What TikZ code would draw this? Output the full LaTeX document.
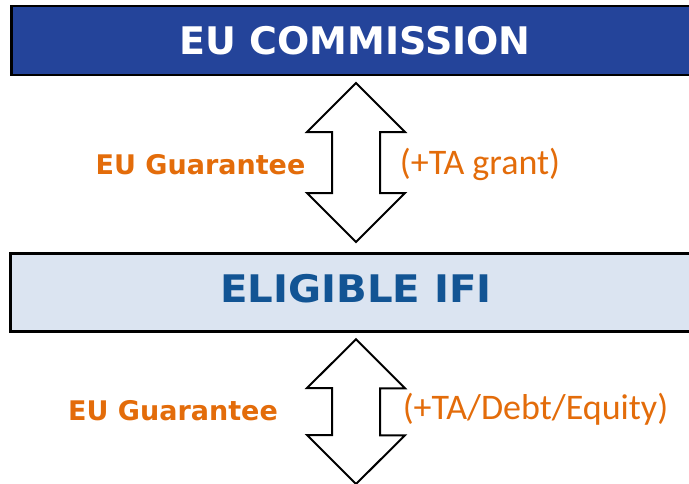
\documentclass[tikz,border=0pt]{standalone}
\usepackage{fontspec}
\newfontfamily\titlefont{DejaVu Sans}
\newfontfamily\titlewide{DejaVu Sans}[FakeStretch=1.06]
\newfontfamily\labfont{Carlito}
\definecolor{eublue}{RGB}{36,68,154}
\definecolor{ifibg}{RGB}{219,228,241}
\definecolor{ifitext}{RGB}{18,84,148}
\definecolor{orangelab}{RGB}{227,108,10}
\tikzset{
  boxstyle/.style={draw=black, line width=2.6pt, rectangle, inner sep=0pt},
  titletext/.style={anchor=base, inner sep=0pt, font=\titlefont\bfseries\fontsize{38}{42}\selectfont},
  titlewidetext/.style={anchor=base, inner sep=0pt, font=\titlewide\bfseries\fontsize{38}{42}\selectfont},
  boldlab/.style={anchor=base, inner sep=0pt, text=orangelab, font=\titlefont\bfseries\fontsize{27}{30}\selectfont},
  parenlab/.style={anchor=base, inner sep=0pt, text=orangelab, font=\labfont\fontsize{36}{40}\selectfont},
  dblarrow/.style={draw=black, fill=white, line width=2pt, line join=miter}
}
\begin{document}
\begin{tikzpicture}[x=1pt,y=-1pt]
\useasboundingbox (0,0) rectangle (689,483);
% boxes
\node[boxstyle, fill=eublue, minimum width=687pt, minimum height=69pt] (eu) at (355,40.5) {};
\node[titletext, text=white] (eut) at (355,54) {EU COMMISSION};
\node[boxstyle, fill=ifibg, minimum width=687pt, minimum height=78pt] (ifi) at (354,292.5) {};
\node[titlewidetext, text=ifitext] (ifit) at (356,302) {ELIGIBLE IFI};
% arrow 1
\coordinate (a1t) at (356,83);
\coordinate (a1b) at (356,242);
\draw[dblarrow] (a1t) -- ++(49,49) -- ++(-25,0) -- ++(0,61) -- ++(25,0) -- (a1b)
  -- ++(-49,-49) -- ++(25,0) -- ++(0,-61) -- ++(-25,0) -- cycle;
% arrow 2
\coordinate (a2t) at (356,339.3);
\coordinate (a2b) at (356,484);
\draw[dblarrow] (a2t) -- ++(49,49) -- ++(-25,0) -- ++(0,47) -- ++(25,0) -- (a2b)
  -- ++(-49,-49) -- ++(25,0) -- ++(0,-47) -- ++(-25,0) -- cycle;
% labels
\node[boldlab] (g1) at (200.5,174) {EU Guarantee};
\node[parenlab] (p1) at (480,174) {(+TA grant)};
\node[boldlab] (g2) at (173,420) {EU Guarantee};
\node[parenlab] (p2) at (535.5,419) {(+TA/Debt/Equity)};
\end{tikzpicture}
\end{document}
